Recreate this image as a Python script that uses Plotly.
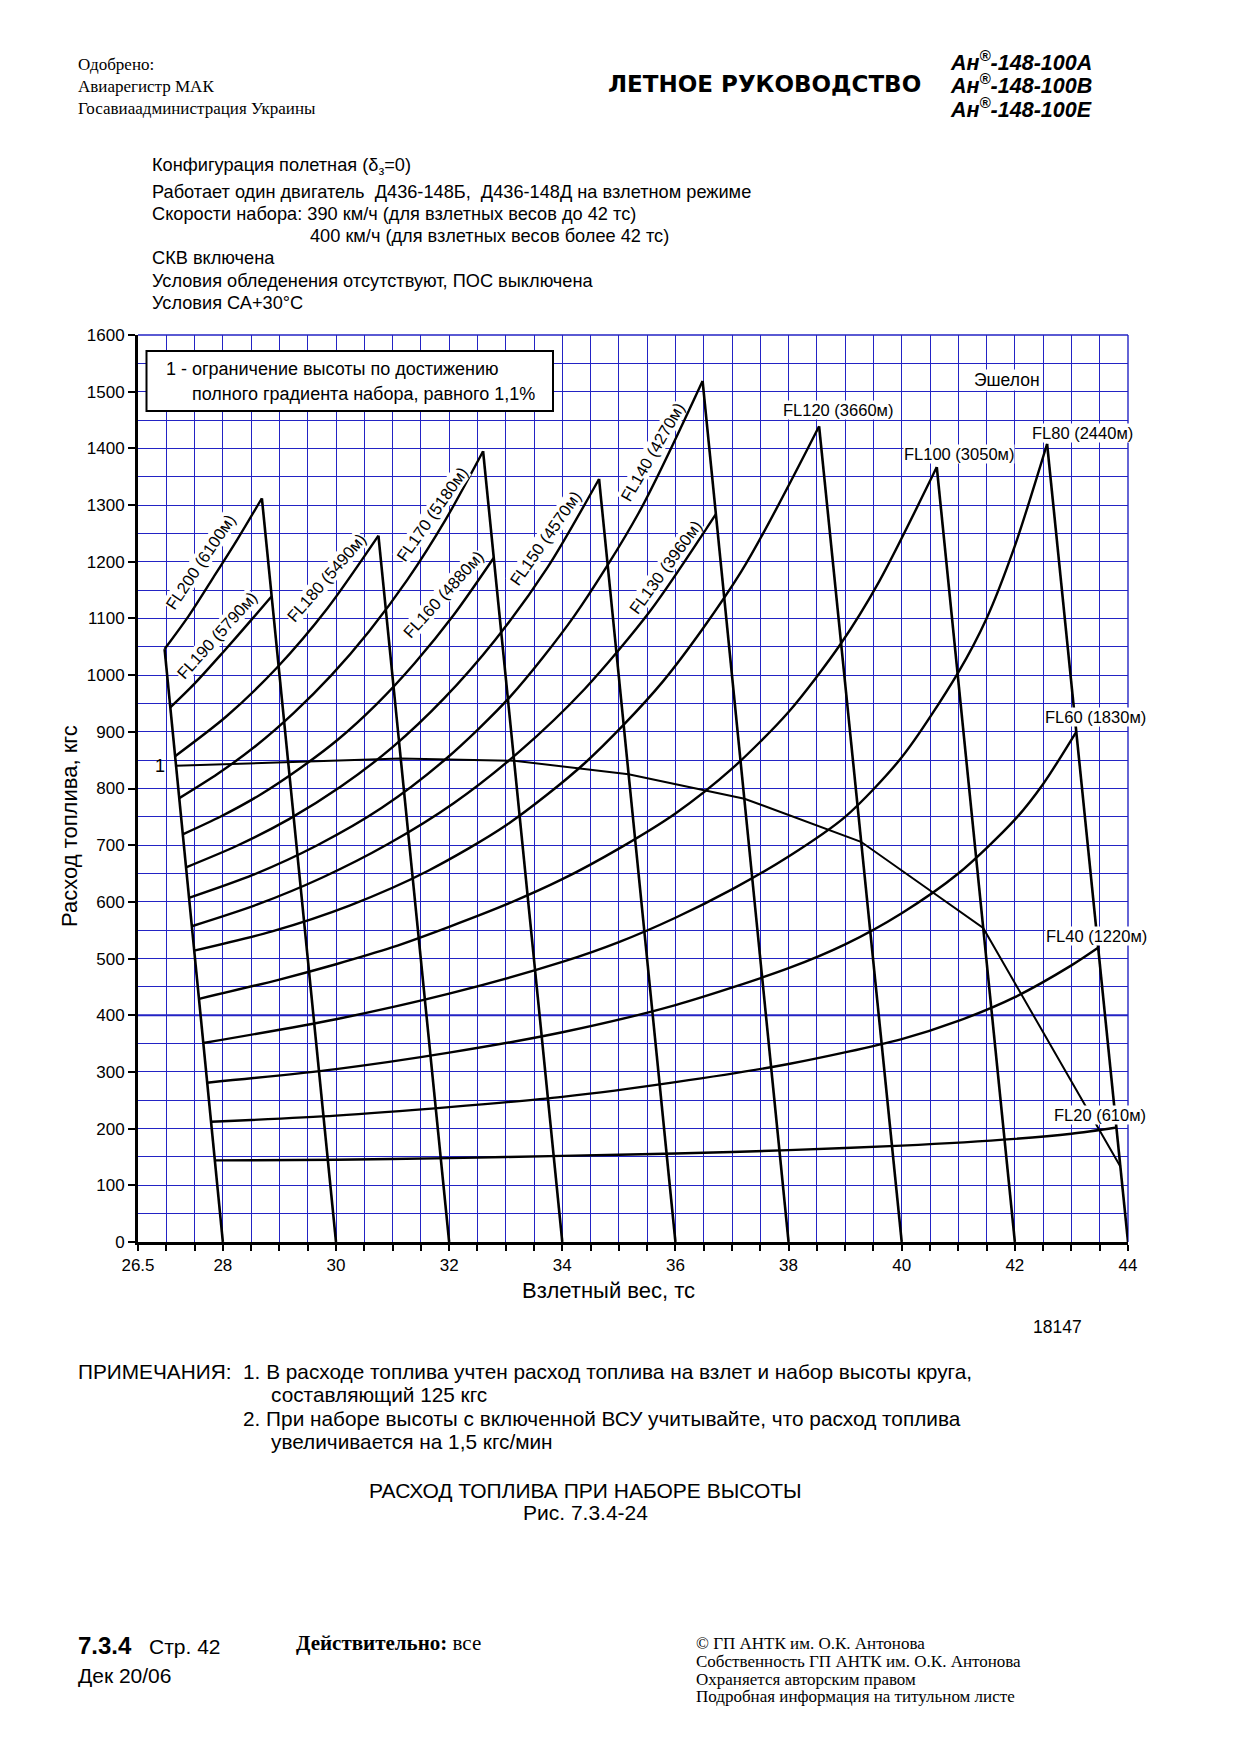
import plotly.graph_objects as go

# ---------------- page geometry helpers (body margin of 8px) ----------------
OFF = 8
W, H = 1224, 1739


def px(x):
    return (x - OFF) / W


def py(y):
    return 1 - (y - OFF) / H


SANS = "Liberation Sans, Arial, sans-serif"
SERIF = "Liberation Serif, Times New Roman, serif"
WIDE = "DejaVu Sans, Liberation Sans, sans-serif"
GRID = "#2323c4"

# ---------------- data ----------------
x_tick_vals = [26.5, 28, 30, 32, 34, 36, 38, 40, 42, 44]
x_tick_text = ["26.5", "28", "30", "32", "34", "36", "38", "40", "42", "44"]
emphasis_grid_y = [400]

# flight-level curves: takeoff weight (t) vs fuel (kg)
fl20_x = [27.86, 30, 32, 34, 36, 38, 40, 42, 43, 43.795]
fl20_y = [144, 145, 148, 152, 156, 162, 170, 182, 191, 202]
fl40_x = [27.79, 30, 32, 34, 36, 38, 40, 41, 42, 43, 43.47]
fl40_y = [212, 223, 238, 256, 282, 314, 358, 390, 432, 488, 519]
fl60_x = [27.72, 30, 32, 34, 36, 38, 39, 40, 41, 42, 42.5, 43.086]
fl60_y = [281, 305, 334, 370, 418, 483, 525, 580, 650, 745, 808, 900]
fl80_x = [27.655, 30, 32, 34, 35, 36, 37, 38, 39, 40, 41, 41.5, 42, 42.57]
fl80_y = [351, 393, 438, 494, 529, 572, 622, 680, 750, 855, 1005, 1100, 1228, 1408]
fl100_x = [27.58, 29, 30, 31, 32, 33, 34, 35, 36, 37, 38, 38.92, 39.6, 40.62]
fl100_y = [429, 463, 490, 520, 556, 595, 640, 694, 756, 835, 935, 1055, 1165, 1367]
fl120_x = [27.49, 28.87, 30.25, 31.63, 33.02, 34.4, 35.78, 37.16, 38.54]
fl120_y = [514, 548, 594, 655, 736, 845, 989, 1182, 1439]
fl130_x = [27.45, 28.6, 29.76, 30.92, 32.08, 33.24, 34.4, 35.56, 36.715]
fl130_y = [557, 595, 643, 702, 774, 865, 976, 1114, 1284]
fl140_x = [27.4, 28.54, 29.67, 30.81, 31.94, 33.08, 34.21, 35.35, 36.48]
fl140_y = [607, 648, 700, 766, 852, 962, 1104, 1286, 1519]
fl150_x = [27.35, 28.25, 29.17, 30.08, 31.0, 31.91, 32.82, 33.74, 34.65]
fl150_y = [661, 699, 746, 803, 873, 959, 1063, 1190, 1346]
fl160_x = [27.29, 27.97, 28.66, 29.34, 30.03, 30.71, 31.39, 32.08, 32.79]
fl160_y = [719, 751, 789, 834, 886, 948, 1021, 1106, 1207]
fl170_x = [27.23, 27.91, 28.58, 29.25, 29.92, 30.59, 31.26, 31.93, 32.6]
fl170_y = [783, 826, 875, 933, 1000, 1078, 1168, 1273, 1395]
fl180_x = [27.156, 28.06, 28.955, 29.85, 30.75]
fl180_y = [857, 927, 1013, 1118, 1246]
fl190_x = [27.071, 27.5, 28.0, 28.5, 28.863]
fl190_y = [943, 985, 1040, 1097, 1139]
fl200_x = [26.97, 27.4, 27.83, 28.26, 28.69]
fl200_y = [1046, 1105, 1172, 1240, 1312]

# iso-weight lines: top point (peak of a FL curve) down to the weight axis
iso_top_x = [26.97, 28.69, 30.75, 32.6, 34.65, 36.48, 38.54, 40.62, 42.57]
iso_top_y = [1046, 1312, 1246, 1395, 1346, 1519, 1439, 1367, 1408]
iso_bottom_x = [28, 30, 32, 34, 36, 38, 40, 42, 44]

# limit line 1 (full climb gradient 1.1 %)
lim1_x = [27.17, 29.16, 31.14, 33.15, 35.17, 37.22, 39.28, 41.44, 43.865]
lim1_y = [840, 846, 853, 849, 825, 782, 706, 554, 133]

# curve labels: text, x, y, angle
fl_label_text = ["FL200 (6100м)", "FL190 (5790м)", "FL180 (5490м)", "FL170 (5180м)",
                 "FL160 (4880м)", "FL150 (4570м)", "FL140 (4270м)", "FL130 (3960м)",
                 "FL120 (3660м)", "FL100 (3050м)", "FL80 (2440м)", "FL60 (1830м)",
                 "FL40 (1220м)", "FL20 (610м)"]
fl_label_x = [27.6, 27.9, 29.82, 31.7, 31.9, 33.7, 35.59, 35.82,
              38.87, 41.02, 43.2, 43.42, 43.45, 43.5]
fl_label_y = [1200, 1070, 1172, 1284, 1143, 1242, 1394, 1191,
              1468, 1390, 1428, 926, 540, 224]
fl_label_angle = [-56, -48, -49, -55, -48, -55, -60, -54, 0, 0, 0, 0, 0, 0]

curves = [(fl20_x, fl20_y), (fl40_x, fl40_y), (fl60_x, fl60_y), (fl80_x, fl80_y),
          (fl100_x, fl100_y), (fl120_x, fl120_y), (fl130_x, fl130_y),
          (fl140_x, fl140_y), (fl150_x, fl150_y), (fl160_x, fl160_y),
          (fl170_x, fl170_y), (fl180_x, fl180_y), (fl190_x, fl190_y),
          (fl200_x, fl200_y)]

# ---------------- figure ----------------
fig = go.Figure()

for xt, yt, xb in zip(iso_top_x, iso_top_y, iso_bottom_x):
    fig.add_trace(go.Scatter(x=[xt, xb], y=[yt, 0], mode="lines",
                             line=dict(color="black", width=2.6),
                             hoverinfo="skip", showlegend=False))

for cx, cy in curves:
    fig.add_trace(go.Scatter(x=cx, y=cy, mode="lines",
                             line=dict(color="black", width=2.4, shape="spline", smoothing=0.8),
                             hoverinfo="skip", showlegend=False))

fig.add_trace(go.Scatter(x=lim1_x, y=lim1_y, mode="lines",
                         line=dict(color="black", width=2.0),
                         hoverinfo="skip", showlegend=False))

annotations = []


def page_text(text, x, y, size, family=SANS, xanchor="left", yanchor="middle", angle=0):
    annotations.append(dict(text=text, x=px(x), y=py(y), xref="paper", yref="paper",
                            xanchor=xanchor, yanchor=yanchor, showarrow=False,
                            textangle=angle,
                            font=dict(family=family, size=size, color="black")))


for t, x, y, a in zip(fl_label_text, fl_label_x, fl_label_y, fl_label_angle):
    annotations.append(dict(text=t, x=x, y=y, xref="x", yref="y", showarrow=False,
                            textangle=a, bgcolor="white", borderpad=0,
                            font=dict(family=SANS, size=16.5, color="black")))

annotations.append(dict(text="Эшелон", x=41.86, y=1521, xref="x", yref="y", showarrow=False,
                        bgcolor="white", borderpad=0,
                        font=dict(family=SANS, size=17.5, color="black")))
annotations.append(dict(text="1", x=26.88, y=840, xref="x", yref="y", showarrow=False,
                        font=dict(family=SANS, size=18, color="black")))

# header
page_text("Одобрено:", 76, 64, 17, SERIF)
page_text("Авиарегистр МАК", 76, 86, 17, SERIF)
page_text("Госавиаадминистрация Украины", 76, 108, 17, SERIF)
page_text("<b>ЛЕТНОЕ РУКОВОДСТВО</b>", 606, 84, 23, WIDE)
page_text("<b><i>Ан<sup>®</sup>-148-100А</i></b>", 1094, 61, 21.5, xanchor="right")
page_text("<b><i>Ан<sup>®</sup>-148-100В</i></b>", 1094, 84, 21.5, xanchor="right")
page_text("<b><i>Ан<sup>®</sup>-148-100Е</i></b>", 1094, 108, 21.5, xanchor="right")

# conditions
page_text("Конфигурация полетная (δ<sub>з</sub>=0)", 150, 166, 18.2)
page_text("Работает один двигатель\u00a0 Д436-148Б,\u00a0 Д436-148Д на взлетном режиме", 150, 192, 18.2)
page_text("Скорости набора: 390 км/ч (для взлетных весов до 42 тс)", 150, 214, 18.2)
page_text("400 км/ч (для взлетных весов более 42 тс)", 308, 236, 18.2)
page_text("СКВ включена", 150, 258, 18.2)
page_text("Условия обледенения отсутствуют, ПОС выключена", 150, 281, 18.2)
page_text("Условия СА+30°С", 150, 303, 18.2)

# legend box text
page_text("1 - ограничение высоты по достижению", 164, 369, 18)
page_text("полного градиента набора, равного 1,1%", 190, 394, 18)

# axis titles
page_text("Расход топлива, кгс", 69, 826, 22, xanchor="center", angle=-90)
page_text("Взлетный вес, тс", 608, 1290, 22, xanchor="center")
page_text("18147", 1057, 1327, 17.5, xanchor="center")

# notes
page_text("ПРИМЕЧАНИЯ:\u00a0 1. В расходе топлива учтен расход топлива на взлет и набор высоты круга,", 76, 1371, 20.8)
page_text("составляющий 125 кгс", 269, 1394, 20.8)
page_text("2. При наборе высоты с включенной ВСУ учитывайте, что расход топлива", 241, 1418, 20.8)
page_text("увеличивается на 1,5 кгс/мин", 269, 1441, 20.8)
page_text("РАСХОД ТОПЛИВА ПРИ НАБОРЕ ВЫСОТЫ", 585, 1490, 21, xanchor="center")
page_text("Рис. 7.3.4-24", 585, 1512, 21, xanchor="center")

# footer
page_text("<b>7.3.4</b>", 76, 1645, 24)
page_text("Стр. 42", 147, 1646, 21)
page_text("Дек 20/06", 76, 1675, 21)
page_text("<b>Действительно:</b> все", 294, 1643, 21, SERIF)
page_text("© ГП АНТК им. О.К. Антонова", 694, 1643, 17, SERIF)
page_text("Собственность ГП АНТК им. О.К. Антонова", 694, 1661, 17, SERIF)
page_text("Охраняется авторским правом", 694, 1679, 17, SERIF)
page_text("Подробная информация на титульном листе", 694, 1696, 17, SERIF)

shapes = [
    # blue top / right frame lines
    dict(type="line", xref="x domain", yref="y domain", x0=0, x1=1, y0=1, y1=1,
         line=dict(color=GRID, width=1.4), layer="below"),
    dict(type="line", xref="x domain", yref="y domain", x0=1, x1=1, y0=0, y1=1,
         line=dict(color=GRID, width=1.4), layer="below"),
    # legend box
    dict(type="rect", xref="paper", yref="paper", x0=px(146.5), x1=px(553), y0=py(411), y1=py(351),
         line=dict(color="black", width=2), fillcolor="white", layer="above"),
]
for gy in emphasis_grid_y:
    shapes.append(dict(type="line", xref="x domain", yref="y", x0=0, x1=1, y0=gy, y1=gy,
                       line=dict(color=GRID, width=1.9), layer="below"))

fig.update_layout(
    width=W, height=H, autosize=False,
    margin=dict(l=0, r=0, t=0, b=0, autoexpand=False),
    paper_bgcolor="white", plot_bgcolor="white",
    showlegend=False,
    annotations=annotations,
    shapes=shapes,
    xaxis=dict(
        domain=[px(138), px(1128)], range=[26.5, 44], automargin=False,
        tickmode="array", tickvals=x_tick_vals, ticktext=x_tick_text,
        ticks="outside", ticklen=6, tickwidth=2, tickcolor="black",
        showline=True, linecolor="black", linewidth=3,
        showgrid=True, gridcolor=GRID, gridwidth=1.4, zeroline=False,
        tickfont=dict(family=SANS, size=17, color="black"),
        minor=dict(tickmode="linear", tick0=26.5, dtick=0.5, showgrid=True,
                   gridcolor=GRID, gridwidth=1.4, ticks="outside", ticklen=6,
                   tickwidth=1.5, tickcolor="black"),
        fixedrange=True,
    ),
    yaxis=dict(
        domain=[py(1242), py(335)], range=[0, 1600], automargin=False,
        tickmode="linear", tick0=0, dtick=100,
        ticks="outside", ticklen=7, tickwidth=2, tickcolor="black",
        showline=True, linecolor="black", linewidth=3,
        showgrid=True, gridcolor=GRID, gridwidth=1.4, zeroline=False,
        tickfont=dict(family=SANS, size=17, color="black"),
        minor=dict(tickmode="linear", tick0=0, dtick=50, showgrid=True,
                   gridcolor=GRID, gridwidth=1.4, ticks=""),
        fixedrange=True,
    ),
)

fig.write_html("out.html")
